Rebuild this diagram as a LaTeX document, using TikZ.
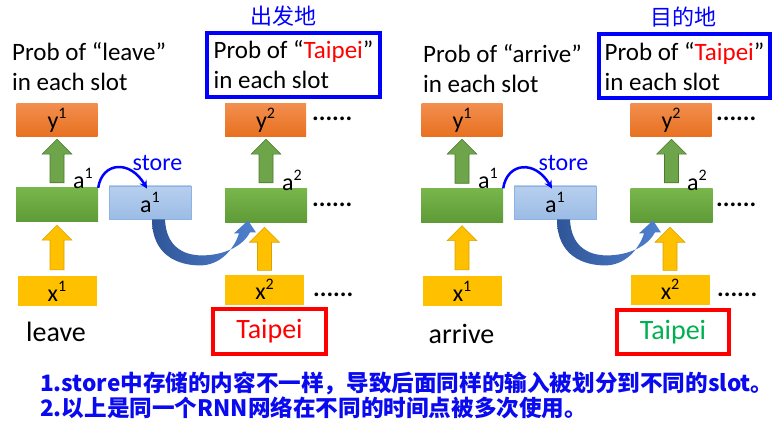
\documentclass[tikz,border=0pt]{standalone}
\usepackage{fontspec}
\setmainfont{Carlito}
\newfontfamily\cjk{Noto Sans CJK SC}
\usepackage{xcolor}
\usepackage{tikz}
\usetikzlibrary{arrows, positioning, calc}

\definecolor{orangetop}{HTML}{F28E4E}
\definecolor{orangebot}{HTML}{E7701F}
\definecolor{greentop}{HTML}{78B64C}
\definecolor{greenbot}{HTML}{5E9A36}
\definecolor{memtop}{HTML}{B7CFEE}
\definecolor{membot}{HTML}{9CBCE6}
\definecolor{memline}{HTML}{8DB3E2}
\definecolor{inyellow}{HTML}{FFC000}
\definecolor{arrdark}{HTML}{2F5597}
\definecolor{arrlight}{HTML}{4F81D0}
\definecolor{taipeigreen}{HTML}{00B050}
\definecolor{noteblue}{HTML}{0A0AF0}

% superscript index as the slides set it
\newcommand{\idx}[1]{\raisebox{0.42em}{\fontsize{16}{16}\selectfont #1}}

% block arrow pointing up, from tail point #2 to tip point #3
\newcommand{\blockup}[3]{%
  \path[#1] let \p1=#2, \p2=#3 in
    (\x1-7pt,\y1) -- (\x1-7pt,\y2-15pt) -- (\x1-15pt,\y2-15pt) -- (\x1,\y2)
    -- (\x1+15pt,\y2-15pt) -- (\x1+7pt,\y2-15pt) -- (\x1+7pt,\y1) -- cycle;}

% curved block arrow leaving the bottom of a memory box
\newcommand{\bendup}[1]{%
  \path[bendarr, shift={(#1.south)}]
    (2,0) .. controls (2,36) and (28,46) .. (50,46)
    .. controls (70,46) and (84,30) .. (89,14) -- (84,14) -- (98,1)
    -- (106,13) -- (100,13) .. controls (92,28) and (72,36) .. (52,36)
    .. controls (32,36) and (16,26) .. (15,0) -- cycle;}

\begin{document}
\begin{tikzpicture}[
  x=1pt, y=-1pt,
  font=\fontsize{24}{29}\selectfont,
  outbox/.style   = {minimum width=81pt, minimum height=33pt, inner sep=0pt,
                     top color=orangetop, bottom color=orangebot},
  hidbox/.style   = {minimum width=82pt, minimum height=34pt, inner sep=0pt,
                     top color=greentop, bottom color=greenbot},
  membox/.style   = {minimum width=82pt, minimum height=33pt, inner sep=0pt,
                     top color=memtop, bottom color=membot, draw=memline,
                     line width=0.8pt},
  inbox/.style    = {minimum width=79pt, minimum height=30pt, inner sep=0pt,
                     fill=inyellow},
  probtxt/.style  = {align=left, inner sep=0pt, anchor=west,
                     font=\fontsize{25}{30}\selectfont},
  probbox/.style  = {draw=blue, line width=4pt, align=left, inner ysep=2pt,
                     minimum height=64pt, font=\fontsize{25}{30}\selectfont},
  wordtxt/.style  = {inner sep=0pt, font=\fontsize{28}{28}\selectfont},
  wordbox/.style  = {draw=red, line width=4pt, minimum width=113pt,
                     minimum height=45pt, inner sep=0pt,
                     font=\fontsize{28}{28}\selectfont},
  dots/.style     = {inner sep=0pt, anchor=west,
                     font=\bfseries\fontsize{25}{25}\selectfont},
  lbl/.style      = {inner sep=0pt},
  title/.style    = {inner sep=0pt, text=blue, font=\cjk\fontsize{22}{22}\selectfont},
  note/.style     = {inner sep=0pt, anchor=west, text=noteblue,
                     font=\cjk\bfseries\fontsize{22.6}{25}\selectfont},
  greenarr/.style = {fill=greenbot!90!white, draw=greenbot!80!black, line width=0.6pt},
  yelarr/.style   = {fill=inyellow, draw=inyellow!85!black, line width=0.6pt},
  bendarr/.style  = {left color=arrdark, right color=arrlight},
  storearr/.style = {->, >=stealth, line width=2.5pt, blue},
]
\useasboundingbox (0,0) rectangle (779,422);

%% Left: "leave"
\node[probtxt] (leaveprob) at (12,67) {Prob of “leave”\\in each slot};
\node[probbox, inner xsep=4pt, minimum width=173pt] (destprob) at (293.5,65)
     {Prob of “\textcolor{red}{Taipei}”\\in each slot};
\node[title] (desttitle) at (283,16) {出发地};

\node[outbox] (out1) at (57,120.5) {y\idx{1}};
\node[hidbox] (hid1) at (57,205)   {};
\node[membox] (mem1) at (150,202.5) {a\idx{1}};
\node[inbox]  (in1)  at (57,291)   {x\idx{1}};
\node[wordtxt] (word1) at (56,332) {leave};
\node[lbl] (act1) at (83,178) {a\idx{1}};
\node[lbl, text=blue] (store1) at (157.5,163) {store};

\node[outbox] (out2) at (265.5,120.5) {y\idx{2}};
\node[hidbox] (hid2) at (266,206)   {};
\node[inbox]  (in2)  at (264.5,289.5) {x\idx{2}};
\node[wordbox, text=red] (word2) at (269.5,331.5) {Taipei};
\node[lbl] (act2) at (292,180) {a\idx{2}};

\node[dots] (dots1) at (312,119) {......};
\node[dots] (dots2) at (312,205) {......};
\node[dots] (dots3) at (313,295) {......};

\blockup{greenarr}{($(hid1.north)+(0,-5)$)}{($(out1.south)+(0,2)$)}
\blockup{yelarr}{($(in1.north)+(0,-6)$)}{($(hid1.south)+(0,3)$)}
\blockup{greenarr}{($(hid2.north)+(0,-6)$)}{($(out2.south)+(0,2)$)}
\blockup{yelarr}{($(in2.north)+(0,-4)$)}{($(hid2.south)+(0,4)$)}
\draw[storearr] (hid1.north east) .. controls +(4,-26) and +(-17,-29) .. ($(mem1.north)+(-3,3)$);
\bendup{mem1}

%% Right: "arrive"
\node[probtxt] (arriveprob) at (423,69) {Prob of “arrive”\\in each slot};
\node[probbox, inner xsep=3pt, minimum width=171pt] (destprobr) at (684.5,66.5)
     {Prob of “\textcolor{red}{Taipei}”\\in each slot};
\node[title] (desttitler) at (683,17) {目的地};

\node[outbox] (out1r) at (462,120.5) {y\idx{1}};
\node[hidbox] (hid1r) at (462,205.5) {};
\node[membox] (mem1r) at (555,202.5) {a\idx{1}};
\node[inbox]  (in1r)  at (462,291)   {x\idx{1}};
\node[wordtxt] (word1r) at (461.5,334) {arrive};
\node[lbl] (act1r) at (488,178) {a\idx{1}};
\node[lbl, text=blue] (store1r) at (563.5,163) {store};

\node[outbox] (out2r) at (671,120.5) {y\idx{2}};
\node[hidbox] (hid2r) at (671.5,206) {};
\node[inbox]  (in2r)  at (670,289.5) {x\idx{2}};
\node[wordbox, text=taipeigreen, minimum width=112pt, minimum height=44pt]
     (word2r) at (673,332) {Taipei};
\node[lbl] (act2r) at (697,180) {a\idx{2}};

\node[dots] (dots1r) at (716,119) {......};
\node[dots] (dots2r) at (716,205) {......};
\node[dots] (dots3r) at (717,295) {......};

\blockup{greenarr}{($(hid1r.north)+(0,-5)$)}{($(out1r.south)+(0,2)$)}
\blockup{yelarr}{($(in1r.north)+(0,-6)$)}{($(hid1r.south)+(0,3)$)}
\blockup{greenarr}{($(hid2r.north)+(0,-6)$)}{($(out2r.south)+(0,2)$)}
\blockup{yelarr}{($(in2r.north)+(0,-4)$)}{($(hid2r.south)+(0,4)$)}
\draw[storearr] (hid1r.north east) .. controls +(4,-26) and +(-17,-29) .. ($(mem1r.north)+(-3,3)$);
\bendup{mem1r}

%% Notes
\node[note] (note1) at (40,383)
     {1.store中存储的内容不一样，导致后面同样的输入被划分到不同的slot。};
\node[note] (note2) at (40,408)
     {2.以上是同一个RNN网络在不同的时间点被多次使用。};

\end{tikzpicture}
\end{document}
